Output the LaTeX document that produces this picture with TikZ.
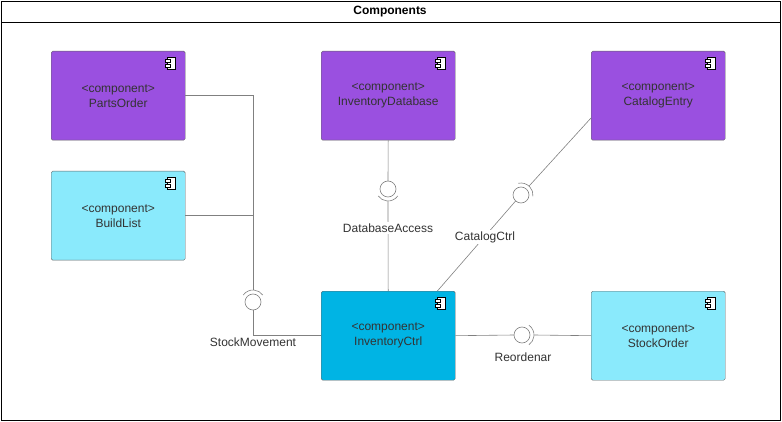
\documentclass[tikz,border=0pt]{standalone}
\usepackage{fontspec}
\setmainfont{Liberation Sans}
\usetikzlibrary{calc, positioning}
\definecolor{purp}{HTML}{9A50E0}
\definecolor{lcyan}{HTML}{8AEAFC}
\definecolor{dcyan}{HTML}{00B4E4}
\definecolor{wire}{HTML}{808080}
\definecolor{txt}{HTML}{333333}

\begin{document}
\begin{tikzpicture}[x=1pt, y=-1pt, font=\fontsize{12}{15}\selectfont, text=txt]
    \tikzset{comp/.style = {draw=black!60, rounded corners=1.5pt, minimum width=134pt,
	minimum height=89pt, align=center, inner sep=0pt, anchor=north west}}
    \tikzset{wire/.style = {draw=wire, line width=0.6pt}}
    \tikzset{lbl/.style = {fill=white, inner sep=1.5pt}}
    \newcommand{\iface}[3]{% name, center, direction of socket
	\coordinate (#1) at (#2);
	\draw[wire] (#1) circle (8);
	\draw[wire] ($(#1)+(#3-55:12)$) arc[start angle=#3-55, end angle=#3+55, radius=12];
	\coordinate (#1-in) at ($(#1)+(#3+180:8)$);
	\coordinate (#1-out) at ($(#1)+(#3:12)$);
    }

    \useasboundingbox (0,0) rectangle (782,422);
    \draw[black, line width=0.6pt] (1,1) rectangle (780,420);
    \draw[black, line width=0.6pt] (1,22) -- (780,22);
    \node[font=\fontsize{12}{15}\selectfont\bfseries, text=black] (title) at (390,12) {Components};

    \node[comp, fill=purp] (po) at (51,51) {<component>\\PartsOrder};
    \node[comp, fill=lcyan] (bl) at (51,171) {<component>\\BuildList};
    \node[comp, fill=purp] (idb) at (321,51) {<component>\\InventoryDatabase};
    \node[comp, fill=purp] (ce) at (591,51) {<component>\\CatalogEntry};
    \node[comp, fill=dcyan] (ic) at (321,291) {<component>\\InventoryCtrl};
    \node[comp, fill=lcyan] (so) at (591,291) {<component>\\StockOrder};

    % component icons
    \foreach \c in {po, bl, idb, ce, ic, so} {
	\draw[black, fill=white, line width=0.5pt] ($(\c.north east)+(-18,6)$) rectangle ++(8,12);
	\draw[black, fill=white, line width=0.5pt] ($(\c.north east)+(-20,8.5)$) rectangle ++(5,3);
	\draw[black, fill=white, line width=0.5pt] ($(\c.north east)+(-20,13.5)$) rectangle ++(5,3);
    }

    % interfaces
    \iface{sm}{253,302}{-90}
    \iface{da}{388,189}{90}
    \iface{cc}{521,195}{-48}
    \iface{ro}{522,335}{0}

    \draw[wire] (po.east |- 0,95) -| (sm-out);
    \draw[wire] (bl.east |- 0,215) -- (253,215);
    \draw[wire] (sm-in) |- (ic.west);
    \draw[wire] (idb.south) -- (da-in);
    \draw[wire] (da-out) -- (ic.north);
    \draw[wire] (ce.west |- 0,118) -- (cc-out);
    \draw[wire] (cc-in) -- ($(ic.north east)+(-18,0)$);
    \draw[wire] (ic.east) -- (ro-in);
    \draw[wire] (ro-out) -- (so.west);

    \node[lbl] (smlbl) at (253,342) {StockMovement};
    \node[lbl] (dalbl) at (388,228) {DatabaseAccess};
    \node[lbl] (cclbl) at (485,237) {CatalogCtrl};
    \node[lbl] (rolbl) at (523,357) {Reordenar};
\end{tikzpicture}
\end{document}
